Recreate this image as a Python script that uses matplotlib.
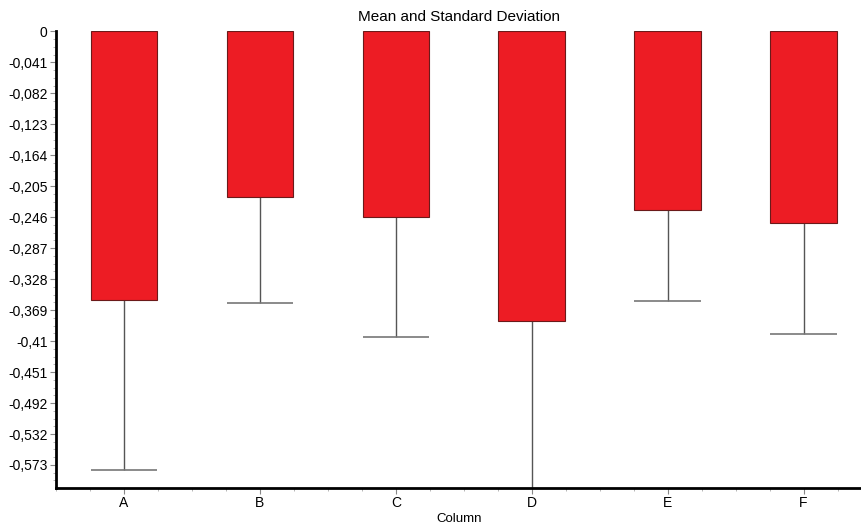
import numpy as np
import matplotlib.pyplot as plt
from matplotlib.ticker import FixedLocator, MultipleLocator, FuncFormatter

plt.rcParams['font.family'] = ['Liberation Sans', 'DejaVu Sans']

columns = ['A', 'B', 'C', 'D', 'E', 'F']
means = [-0.3554, -0.2193, -0.2458, -0.3832, -0.2365, -0.2537]
stds = [0.2247, 0.1400, 0.1586, 0.2400, 0.1203, 0.1467]

tick_step = 0.04096
n_ticks = 15


def comma_fmt(v, pos):
    s = ('%.3f' % v).rstrip('0').rstrip('.')
    if s in ('-0', '0'):
        return '0'
    return s.replace('.', ',')


fig = plt.figure(figsize=(8.62, 5.27), dpi=100)
ax = fig.add_axes([0.065, 0.074, 0.935, 0.867])

x = np.arange(len(columns))
width = 0.49
means = np.array(means)
stds = np.array(stds)
ax.bar(x, means, width=width, color='#ed1c24', edgecolor='#6b1a1a', linewidth=0.8, zorder=2)
# only the lower half of the std bar is drawn
ax.vlines(x, means - stds, means, color='#555555', linewidth=1.0, zorder=1)
ax.hlines(means - stds, x - width / 2, x + width / 2, color='#777777', linewidth=1.2, zorder=1)

ax.set_xlim(-0.5, 5.43)
ax.set_ylim(-0.6039, 0.0005)

ax.yaxis.set_major_locator(FixedLocator([-i * tick_step for i in range(n_ticks)]))
ax.yaxis.set_major_formatter(FuncFormatter(comma_fmt))
ax.yaxis.set_minor_locator(MultipleLocator(tick_step / 4))
ax.set_xticks(x)
ax.set_xticklabels(columns)
ax.xaxis.set_minor_locator(MultipleLocator(0.25))

ax.tick_params(axis='both', which='major', labelsize=10, length=4, width=0.8, color='#888888', pad=2)
ax.tick_params(axis='both', which='minor', length=2.5, width=0.6, color='#aaaaaa')

for side in ['top', 'right']:
    ax.spines[side].set_visible(False)
for side in ['left', 'bottom']:
    ax.spines[side].set_linewidth(2)
    ax.spines[side].set_color('black')

ax.set_title('Mean and Standard Deviation', fontsize=11, pad=7)
ax.set_xlabel('Column', fontsize=9.5, labelpad=2)

plt.savefig('out.png', dpi=100)
